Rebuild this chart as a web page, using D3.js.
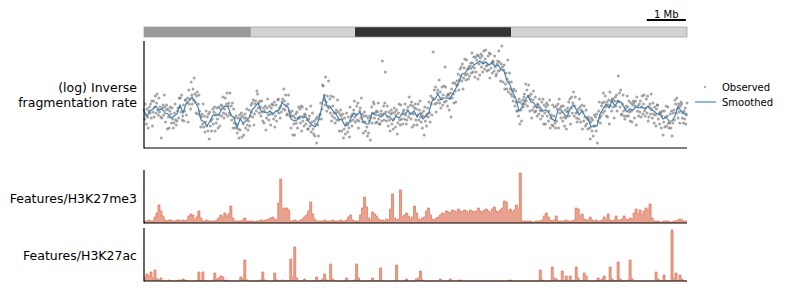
<!DOCTYPE html>
<html><head><meta charset="utf-8">
<script src="https://cdn.jsdelivr.net/npm/d3@7"></script>
<style>body{margin:0;background:#fff}svg{display:block;font-family:"DejaVu Sans",sans-serif}</style>
</head><body><svg id="c" width="786" height="291"></svg>
<script>
// ---------- DATA ----------
const SPAN_MB = 13.92;                      // region length in Mb
const bandStarts = [0, 2.74, 5.41, 9.41];
const bandEnds   = [2.74, 5.41, 9.41, 13.92];
const bandStains = ["gpos50", "gneg", "gpos100", "gneg"];
const scaleBarMb = 1;
const scaleBarLabel = "1 Mb";
const trackLabels = ["(log) Inverse\nfragmentation rate", "Features/H3K27me3", "Features/H3K27ac"];
const legendLabels = ["Observed", "Smoothed"];

// smoothed (log) inverse fragmentation rate, regular bins across region
const smoothed = [37,32,37,39,42,38,39,35,34,30,32,34,43,35,44,47,51,46,41,28,26,22,27,33,32,34,39,42,41,33,30,20,29,25,27,30,38,41,45,37,36,35,37,34,37,38,45,43,41,29,27,28,32,30,31,26,23,21,26,37,53,42,42,37,34,29,28,22,23,30,35,33,36,27,24,24,35,33,33,31,35,32,31,27,32,30,34,34,37,34,37,31,35,29,32,36,47,49,54,48,50,50,49,55,60,66,74,75,79,79,83,85,87,84,86,83,85,82,83,79,77,67,63,55,49,37,41,48,52,46,45,40,41,37,38,35,29,27,38,38,34,31,39,43,39,33,37,32,29,21,22,22,34,39,44,40,47,42,47,46,41,36,39,38,41,40,41,39,42,38,37,34,34,29,31,27,27,32,42,37,35,32];

// observed values, regular bins across region
const observed = [
38,29,44,33,24, 39,31,20,37,41, 35,44,30,47,22, 36,47,31,41,52, 35,45,54,38,33, 50,36,41,31,10,
30,40,43,33,53, 41,26,38,43,19, 39,31,20,37,41, 34,25,40,29,20, 25,35,44,28,23, 27,37,40,30,50,
41,50,36,53,28, 32,43,27,37,48, 48,33,45,50,26, 58,44,49,39,66, 53,44,59,48,70, 54,46,35,52,56,
34,44,53,37,32, 21,31,34,24,44, 21,32,16,26,37, 22,31,17,34,9, 36,22,27,17,29, 39,24,36,41,17,
34,25,40,29,20, 41,33,22,39,43, 32,42,51,35,30, 39,50,34,44,55, 32,42,45,35,55, 33,42,28,45,20,
39,25,30,20,32, 24,15,30,19,10, 33,18,30,35,11, 32,24,13,30,34, 20,30,39,23,18, 27,38,22,32,43,
36,45,31,48,23, 34,44,47,37,57, 54,40,45,35,47, 41,32,47,36,27, 40,25,37,42,18, 30,40,49,33,28,
42,34,23,40,44, 34,43,29,46,21, 32,43,27,37,48, 49,35,40,30,42, 36,46,49,39,59, 47,38,53,42,33,
34,44,53,37,32, 35,20,32,37,13, 32,24,13,30,34, 25,36,20,30,41, 30,39,25,42,17, 41,27,32,22,34,
33,24,39,28,19, 19,29,32,22,42, 16,26,35,19,14, 27,12,24,29,5, 31,23,12,29,33, 34,45,29,39,63,
62,48,53,43,71, 46,37,52,41,67, 40,49,35,52,27, 32,42,51,35,30, 25,35,38,28,48, 36,28,17,34,38,
32,17,29,34,10, 19,30,14,24,35, 25,16,31,20,11, 41,27,32,22,34, 28,38,47,31,26, 33,42,28,45,20,
27,37,40,30,50, 34,26,15,32,36, 26,17,32,21,12, 30,15,27,32,8, 30,41,25,35,46, 44,30,35,25,37,
26,36,45,29,24, 24,34,37,27,87, 33,42,28,45,76, 36,27,42,31,22, 36,28,17,34,38, 24,35,19,29,40,
36,21,33,38,14, 25,35,44,28,23, 43,29,34,24,36, 38,29,44,33,24, 28,38,41,31,51, 34,43,29,46,21,
42,34,23,40,44, 28,39,23,33,44, 28,38,47,31,26, 35,20,32,37,13, 41,27,32,22,34, 40,31,46,35,26,
52,44,33,50,96, 49,58,44,61,36, 45,55,58,48,68, 45,56,40,50,61, 43,53,62,46,81, 61,47,52,42,54,
53,38,50,55,31, 59,50,65,54,45, 65,57,46,63,67, 63,74,58,68,79, 72,81,67,84,59, 70,80,89,73,68,
88,74,79,69,81, 72,82,85,75,95, 85,76,91,80,71, 91,76,88,93,69, 92,84,73,90,94, 81,92,76,86,97,
79,89,98,82,77, 83,92,78,95,70, 94,80,85,75,87, 86,77,92,81,72, 74,84,87,77,97, 86,78,67,84,102,
81,66,78,83,59, 64,75,59,69,88, 56,66,75,59,54, 66,52,57,47,59, 51,42,57,46,37, 37,46,32,49,24,
46,38,27,44,48, 41,51,54,44,64, 47,58,42,52,63, 52,37,49,54,30, 38,48,57,41,36, 51,37,42,32,44,
43,34,49,38,29, 37,46,32,49,24, 43,35,24,41,45, 32,43,27,37,48, 20,30,33,23,43, 22,32,41,25,20,
42,27,39,44,20, 49,35,40,30,42, 36,27,42,31,22, 38,30,19,36,40, 37,46,32,49,24, 40,51,35,45,56,
32,42,51,35,30, 26,36,39,29,49, 41,26,38,43,19, 36,27,42,31,22, 38,24,29,19,31, 28,20,9,26,30,
17,28,12,22,33, 22,31,17,34,5, 27,37,46,30,25, 32,42,45,35,55, 46,37,52,41,32, 46,31,43,48,24,
56,42,47,37,49, 49,41,30,47,51, 42,53,37,47,72, 46,55,41,58,33, 34,44,53,37,32, 29,39,42,32,52,
41,32,47,36,27, 45,37,26,43,47, 45,30,42,47,23, 51,37,42,32,44, 36,47,31,41,52, 34,44,53,37,32,
40,49,35,52,27, 31,41,44,34,54, 39,30,45,34,25, 41,33,22,39,43, 43,29,34,24,36, 35,20,32,37,13,
26,37,21,31,42, 22,32,41,25,20, 25,34,20,37,12, 25,35,38,28,48, 44,35,50,39,30, 44,36,25,42,46,
44,30,35,25,37, 29,40,24,34,45];

// H3K27me3 signal, regular bins
const h3k27me3 = [2,2,3,2,2,6,10,18,12,7,3,2,3,3,2,2,3,3,2,3,2,3,7,9,8,3,6,12,5,2,2,3,2,2,2,2,3,5,8,6,10,7,9,17,5,2,2,2,2,3,5,2,
2,2,2,1,2,2,3,2,3,3,4,5,6,4,3,20,44,14,15,15,13,2,2,3,2,2,3,4,6,8,12,21,9,4,2,2,2,2,3,2,2,2,3,2,2,2,3,2,2,3,6,8,3,2,2,2,
8,15,26,16,5,3,11,9,7,4,3,3,2,4,3,14,29,5,3,4,33,6,8,10,7,4,6,17,10,4,3,5,6,12,15,8,4,3,5,6,
8,10,9,12,11,10,13,12,11,14,12,11,13,12,10,13,12,11,12,15,12,11,13,14,12,10,14,16,12,11,13,15,22,21,12,14,11,13,18,14,50,
2,2,2,2,2,1,1,2,2,2,3,7,10,6,3,2,3,7,2,2,2,2,3,2,2,2,3,15,14,7,9,4,3,3,6,3,2,3,2,2,3,6,3,9,3,2,3,7,3,3,4,7,4,3,5,4,
10,14,9,13,8,12,15,13,19,5,2,2,2,1,1,2,2,2,1,1,2,2,3,4,3,2,2];

// H3K27ac signal, regular bins
const h3k27ac = [4,7,5,9,3,11,2,1,3,0,0,0,1,0,0,0,0,1,0,2,1,0,0,0,0,0,0,9,0,9,0,0,0,0,1,8,2,3,5,4,0,1,0,0,0,0,0,0,4,2,21,1,
0,0,0,0,0,0,1,9,1,0,0,0,0,8,1,0,0,1,0,0,0,22,4,34,3,0,0,0,2,0,0,0,0,0,4,0,0,2,7,1,0,17,2,0,0,0,0,0,0,3,0,0,0,1,17,3,
0,0,0,0,0,0,3,0,0,0,13,0,0,0,0,0,0,0,16,0,0,0,0,2,0,0,0,0,2,3,10,1,0,0,0,0,0,0,0,0,2,0,0,0,0,2,0,0,0,0,1,
0,0,0,0,0,0,0,0,0,0,0,0,0,0,0,0,0,0,0,0,0,0,0,0,1,0,0,0,0,0,0,0,0,0,0,0,0,0,0,11,1,0,0,0,0,14,3,2,0,0,10,0,5,0,5,0,
0,14,3,0,0,8,5,0,0,0,0,0,3,0,2,5,0,0,14,2,0,0,19,2,0,0,0,1,21,2,0,0,0,0,0,0,0,0,0,0,0,9,2,0,0,6,0,0,0,51,2,8,0,6,2,0,0];

// ---------- DRAW ----------
const svg = d3.select("#c");
const x = d3.scaleLinear().domain([0, SPAN_MB]).range([144, 687]);
const yS = d3.scaleLinear().domain([0, 107]).range([148, 41]);
const y1 = d3.scaleLinear().domain([0, 53]).range([223, 170]);
const y2 = d3.scaleLinear().domain([0, 53]).range([281, 228]);
const stainColor = d3.scaleOrdinal().domain(["gpos50","gneg","gpos100"]).range(["#999999","#d3d3d3","#333333"]);

// ideogram
svg.append("g").selectAll("rect").data(bandStarts).join("rect")
  .attr("x", (d,i) => x(d)).attr("y", 27)
  .attr("width", (d,i) => x(bandEnds[i]) - x(d)).attr("height", 10)
  .attr("fill", (d,i) => stainColor(bandStains[i]));
svg.append("rect").attr("x", x(0)).attr("y", 27).attr("width", x(SPAN_MB)-x(0)).attr("height", 10)
  .attr("fill","none").attr("stroke","#9a9a9a").attr("stroke-width",0.7);

// scale bar
const sbEnd = SPAN_MB - 0.03, sbStart = sbEnd - scaleBarMb;
svg.append("line").attr("x1", x(sbStart)).attr("x2", x(sbEnd)).attr("y1", 20).attr("y2", 20)
  .attr("stroke","#000").attr("stroke-width",2);
svg.append("text").attr("x", (x(sbStart)+x(sbEnd))/2).attr("y", 18).attr("text-anchor","middle")
  .attr("font-size", 10).text(scaleBarLabel);

// observed points
const obsPos = observed.map((v,i) => i * SPAN_MB / (observed.length - 1));
svg.append("g").selectAll("circle").data(observed).join("circle")
  .attr("cx", (d,i) => x(obsPos[i])).attr("cy", d => yS(d)).attr("r", 1.5)
  .attr("fill", "#707070").attr("fill-opacity", 0.62);

// smoothed line
const smPos = smoothed.map((v,i) => i * SPAN_MB / (smoothed.length - 1));
svg.append("path").datum(smoothed)
  .attr("d", d3.line().x((d,i) => x(smPos[i])).y(d => yS(d)))
  .attr("fill","none").attr("stroke","#3f7aa8").attr("stroke-width",1.1);

// feature tracks
function track(vals, y) {
  const w = SPAN_MB / vals.length;
  const pts = vals.map((v,i) => [i*w, v]).concat([[SPAN_MB, vals[vals.length-1]]]);
  svg.append("path").datum(pts)
    .attr("d", d3.area().curve(d3.curveStepAfter).x(d => x(d[0])).y0(y(0)).y1(d => y(d[1])))
    .attr("fill", "#e07b5f").attr("fill-opacity", 0.7);
  svg.append("path").datum(pts)
    .attr("d", d3.line().curve(d3.curveStepAfter).x(d => x(d[0])).y(d => y(d[1])))
    .attr("fill", "none").attr("stroke", "#e07b5f").attr("stroke-width", 0.8);
}
track(h3k27me3, y1);
track(h3k27ac, y2);

// spines
[[yS, 107], [y1, 53], [y2, 53]].forEach(([ys, top]) => {
  const g = svg.append("g");
  g.append("line").attr("x1", 144).attr("x2", 144).attr("y1", ys(top)).attr("y2", ys(0)+0.5).attr("stroke","#000").attr("stroke-width",1.2);
  g.append("line").attr("x1", 144).attr("x2", x(SPAN_MB)).attr("y1", ys(0)).attr("y2", ys(0)).attr("stroke","#000").attr("stroke-width",1.2);
});

// labels
const lbl = svg.append("g").attr("font-size", 12.5).attr("text-anchor","end");
trackLabels[0].split("\n").forEach((t,i) => lbl.append("text").attr("x",137).attr("y", 92 + i*15).text(t));
lbl.append("text").attr("x",137).attr("y",203).text(trackLabels[1]);
lbl.append("text").attr("x",137).attr("y",260).text(trackLabels[2]);

// legend
const lg = svg.append("g").attr("font-size", 10);
lg.append("circle").attr("cx", 705).attr("cy", 87).attr("r", 1.2).attr("fill","#707070").attr("fill-opacity",0.6);
lg.append("text").attr("x", 722).attr("y", 91).text(legendLabels[0]);
lg.append("line").attr("x1", 695).attr("x2", 716).attr("y1", 102).attr("y2", 102).attr("stroke","#3f7aa8").attr("stroke-width",1.1);
lg.append("text").attr("x", 722).attr("y", 106).text(legendLabels[1]);
</script></body></html>
